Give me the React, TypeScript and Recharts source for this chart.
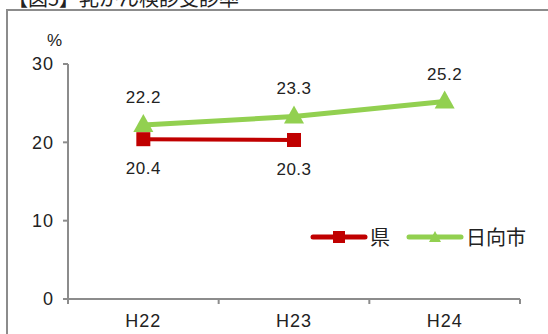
import React from "react"
import {LineChart, Line, XAxis, YAxis, LabelList} from "recharts"

const years = ["H22", "H23", "H24"]
const prefRate = [20.4, 20.3, null]
const cityRate = [22.2, 23.3, 25.2]
const yTicks = [0, 10, 20, 30]

const series = [
    {key: "pref", name: "県", color: "#c00000", marker: "square"},
    {key: "city", name: "日向市", color: "#92d050", marker: "triangle"},
]

const data = years.map((year, i) => ({
    year,
    pref: prefRate[i],
    city: cityRate[i],
}))

const AXIS = "#8c8c8c"
const RED = "#c00000"
const GREEN = "#92d050"
const FONT = "'Liberation Sans', Arial, sans-serif"
const JP = "'Noto Sans CJK JP', sans-serif"

const W = 548
const H = 334
const MARGIN = {top: 64, right: 28, bottom: 0, left: 0}
const X_HEIGHT = 35
const Y_WIDTH = 68
const HALF_BAND = (W - MARGIN.left - MARGIN.right - Y_WIDTH) / years.length / 2

// category ticks sit on the band edges, labels in the middle
const YearTick = (props: any) => {
    const {x, y, payload, index} = props
    const last = index === years.length - 1
    return (
        <g>
            <line x1={x - HALF_BAND} y1={y} x2={x - HALF_BAND} y2={y + 5} stroke={AXIS} strokeWidth={2} />
            {last && <line x1={x + HALF_BAND} y1={y} x2={x + HALF_BAND} y2={y + 5} stroke={AXIS} strokeWidth={2} />}
            <text x={x} y={y + 28} textAnchor="middle" fontSize={18} letterSpacing={1} fill="#222" fontFamily={FONT}>
                {payload.value}
            </text>
        </g>
    )
}

const SquareDot = (props: any) => {
    const {cx, cy} = props
    if (cx == null || cy == null) return null
    return <rect x={cx - 7} y={cy - 7} width={14} height={14} fill={RED} />
}

const TriangleDot = (props: any) => {
    const {cx, cy} = props
    if (cx == null || cy == null) return null
    return <polygon points={`${cx},${cy - 11} ${cx + 10},${cy + 7} ${cx - 10},${cy + 7}`} fill={GREEN} />
}

const LegendBox = () => (
    <div style={{position: "absolute", left: 310, top: 222, display: "flex", alignItems: "center", fontFamily: JP, fontSize: 20, color: "#222"}}>
        {series.map((s) => (
            <div key={s.key} style={{display: "flex", alignItems: "center", marginRight: 16}}>
                <svg width={58} height={14}>
                    <line x1={3} y1={7} x2={55} y2={7} stroke={s.color} strokeWidth={5} strokeLinecap="round" />
                    {s.marker === "square"
                        ? <rect x={23} y={1} width={12} height={12} fill={s.color} />
                        : <polygon points="29,1 35,12 23,12" fill={s.color} />}
                </svg>
                <span style={{marginLeft: 2}}>{s.name}</span>
            </div>
        ))}
    </div>
)

export default function App() {
    return (
        <div style={{position: "fixed", left: 0, top: 0, width: W, height: H, overflow: "hidden", background: "#fff"}}>
            <div style={{position: "absolute", left: 8, top: -17, fontFamily: JP, fontSize: 20, color: "#222", whiteSpace: "nowrap"}}>
                【図5】乳がん検診受診率
            </div>
            <div style={{position: "absolute", left: 6, top: 9, width: 600, height: 400, border: `2px solid ${AXIS}`}} />
            <div style={{position: "absolute", left: 47, top: 31, fontFamily: FONT, fontSize: 17, color: "#222"}}>%</div>
            <div style={{position: "absolute", left: 0, top: 0}}>
                <LineChart width={W} height={H} data={data} margin={MARGIN}>
                    <XAxis
                        dataKey="year"
                        scale="band"
                        height={X_HEIGHT}
                        axisLine={{stroke: AXIS, strokeWidth: 2}}
                        tickLine={false}
                        tickSize={0}
                        tickMargin={0}
                        tick={<YearTick />}
                        interval={0}
                    />
                    <YAxis
                        width={Y_WIDTH}
                        domain={[0, 30]}
                        ticks={yTicks}
                        interval={0}
                        axisLine={{stroke: AXIS, strokeWidth: 2}}
                        tickLine={{stroke: AXIS, strokeWidth: 2}}
                        tickSize={5}
                        tickMargin={9}
                        tick={{fontSize: 18, fill: "#222", fontFamily: FONT, letterSpacing: 1}}
                    />
                    <Line
                        dataKey="pref"
                        name="県"
                        stroke={RED}
                        strokeWidth={4}
                        dot={<SquareDot />}
                        activeDot={false}
                        isAnimationActive={false}
                    >
                        <LabelList dataKey="pref" position="bottom" offset={23} fontSize={17} letterSpacing={0.5} fill="#222" fontFamily={FONT} />
                    </Line>
                    <Line
                        dataKey="city"
                        name="日向市"
                        stroke={GREEN}
                        strokeWidth={5}
                        dot={<TriangleDot />}
                        activeDot={false}
                        isAnimationActive={false}
                    >
                        <LabelList dataKey="city" position="top" offset={22} fontSize={17} letterSpacing={0.5} fill="#222" fontFamily={FONT} />
                    </Line>
                </LineChart>
            </div>
            <LegendBox />
        </div>
    )
}
